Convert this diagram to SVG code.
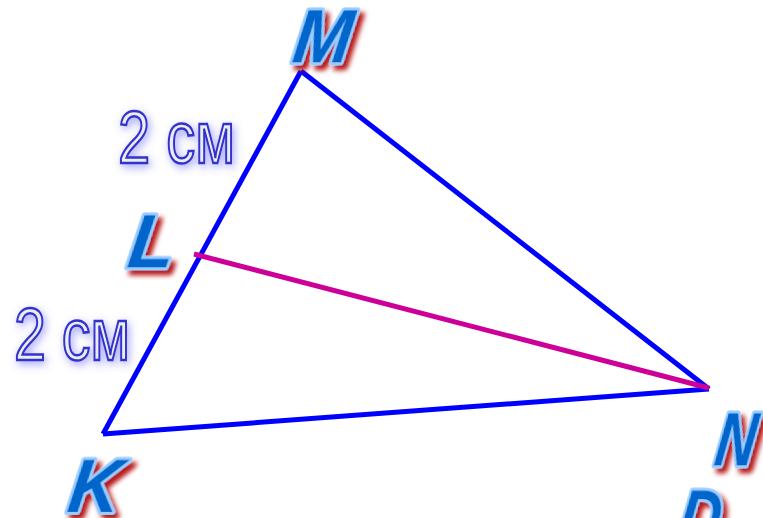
<svg xmlns="http://www.w3.org/2000/svg" width="763" height="518" viewBox="0 0 763 518">
<defs>
<filter id="shadow" x="-30%" y="-30%" width="170%" height="170%">
<feDropShadow dx="5" dy="5" stdDeviation="2.5" flood-color="#b00000" flood-opacity="0.9"/>
</filter>
<filter id="glow" x="-20%" y="-30%" width="140%" height="160%">
<feGaussianBlur in="SourceAlpha" stdDeviation="4" result="b"/>
<feFlood flood-color="#6666ff" flood-opacity="0.6"/>
<feComposite in2="b" operator="in" result="g"/>
<feOffset in="g" dx="2" dy="3" result="go"/>
<feMerge><feMergeNode in="go"/><feMergeNode in="SourceGraphic"/></feMerge>
</filter>
<style>
.pt{font-family:"Liberation Sans",Arial,sans-serif;font-weight:bold;font-style:italic;font-size:76px;fill:#0066cc;stroke:#99ccff;stroke-width:6;paint-order:stroke;stroke-linejoin:round;filter:url(#shadow)}
.cm{font-family:"Liberation Sans",Arial,sans-serif;font-size:74px;fill:#ececec;stroke:#3333cc;stroke-width:2.5;filter:url(#glow)}
.side{stroke:#0000ff;stroke-width:5;fill:none}
.med{stroke:#cc0099;stroke-width:5;fill:none}
</style>
</defs>
<g id="connectors">
<line class="side" x1="301" y1="71" x2="103" y2="434"/>
<line class="side" x1="301" y1="71" x2="709" y2="389"/>
<line class="side" x1="103" y1="434" x2="709" y2="389"/>
<line class="med" x1="194" y1="254" x2="709" y2="388"/>
</g>
<g id="M"><text class="pt" x="291" y="62" textLength="58" lengthAdjust="spacingAndGlyphs" transform="skewX(-8)" transform-origin="320 62">M</text></g>
<g id="L"><text class="pt" x="126" y="267" textLength="46" lengthAdjust="spacingAndGlyphs" transform="skewX(-8)" transform-origin="150 267">L</text></g>
<g id="K"><text class="pt" x="66" y="512" textLength="52" lengthAdjust="spacingAndGlyphs" transform="skewX(-8)" transform-origin="90 512">K</text></g>
<g id="N"><text class="pt" x="713" y="465" textLength="40" lengthAdjust="spacingAndGlyphs" transform="skewX(-8)" transform-origin="735 465">N</text></g>
<g id="D"><text class="pt" x="676" y="543" textLength="42" lengthAdjust="spacingAndGlyphs" transform="skewX(-8)" transform-origin="695 543">D</text></g>
<g id="label1"><text class="cm" x="118" y="163" textLength="117" lengthAdjust="spacingAndGlyphs">2 см</text></g>
<g id="label2"><text class="cm" x="14" y="360" textLength="116" lengthAdjust="spacingAndGlyphs">2 см</text></g>
</svg>
